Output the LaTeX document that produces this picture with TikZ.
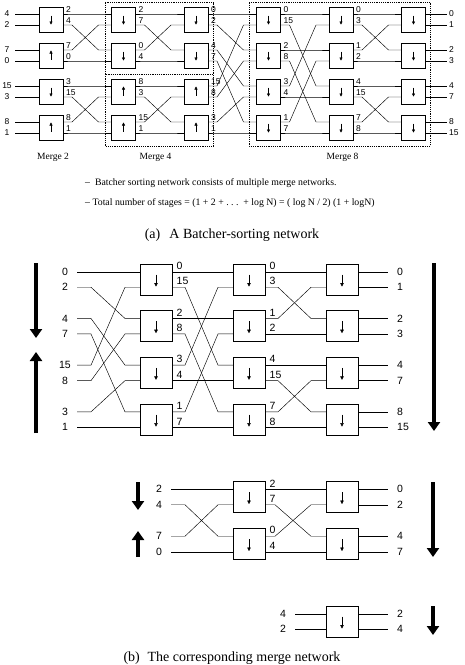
\documentclass[tikz,border=0pt]{standalone}
\usepackage{fontspec}
\setmainfont{Liberation Serif}
\setsansfont{Liberation Sans}
\usepackage{tikz}
\usetikzlibrary{
  arrows.meta,
  calc,
  positioning
}
\tikzset{
  cmpbox/.style={
    draw, line width=0.5pt, minimum width=24pt, minimum height=25pt,
    inner sep=0pt, outer sep=0pt
  },
  cmpboxb/.style={cmpbox, minimum width=32pt, minimum height=31pt},
  sorta/.style={path picture={
    \draw[-{Triangle[length=3pt, width=3pt]}, line width=0.4pt]
      ([yshift=(#1)*4pt]path picture bounding box.center) --
      ([yshift=-(#1)*5pt]path picture bounding box.center);}},
  sortb/.style={path picture={
    \draw[-{Triangle[length=3.5pt, width=3.5pt]}, line width=0.4pt]
      ([yshift=5pt]path picture bounding box.center) --
      ([yshift=-7pt]path picture bounding box.center);}},
  wire/.style={line width=0.45pt},
  numa/.style={font=\sffamily\fontsize{8.5}{9}\selectfont, inner sep=1pt},
  numb/.style={font=\sffamily\fontsize{10.5}{11}\selectfont, inner sep=1pt},
  olab/.style={anchor=south west, xshift=2pt},
  olabb/.style={anchor=south west, xshift=3.5pt, yshift=1pt},
  zone/.style={draw, line width=0.4pt, dash pattern=on 1.2pt off 1pt},
  mergelab/.style={font=\fontsize{9.5}{10}\selectfont},
  note/.style={font=\fontsize{9.8}{11}\selectfont, anchor=west, inner sep=0pt},
  subcap/.style={font=\fontsize{14}{16}\selectfont},
  bigarrow/.style={line width=4pt, -{Triangle[length=9pt, width=12pt]}}
}

\begin{document}
\begin{tikzpicture}[x=1pt, y=-1pt]
  \useasboundingbox (0,0) rectangle (464,665);

  % (a) the Batcher network: ports and comparators
  \foreach \cc in {1,...,6}
    \foreach \p in {0,...,7}{
      \pgfmathsetmacro\wx{51+72.5*(\cc-1)}
      \pgfmathsetmacro\wy{14+36*int(\p/2)+11*mod(\p,2)}
      \coordinate (a\cc i\p) at ({\wx-12},\wy);
      \coordinate (a\cc o\p) at ({\wx+12},\wy);
    }
  \foreach \cc/\sa/\sb/\sc/\sd in {1/1/-1/1/-1, 2/1/1/-1/-1, 3/1/1/-1/-1,
                                   4/1/1/1/1, 5/1/1/1/1, 6/1/1/1/1}
    \foreach \k/\s in {1/\sa, 2/\sb, 3/\sc, 4/\sd}
      \node[cmpbox, sorta=\s] (a\cc b\k) at ({51+72.5*(\cc-1)},{19.5+36*(\k-1)}) {};

  \foreach \v [count=\p from 0] in {4,2,7,0,15,3,8,1}{
    \pgfmathsetmacro\wy{14+36*int(\p/2)+11*mod(\p,2)}
    \coordinate (as\p) at (15,\wy);
    \node[numa] (ain\p) at (7,\wy) {\v};
    \draw[wire] (as\p) -- (a1i\p);
  }
  \foreach \cc/\nn/\map in {1/2/{0/0,1/2,2/1,3/3,4/4,5/6,6/5,7/7},
                            2/3/{0/0,1/2,2/1,3/3,4/4,5/6,6/5,7/7},
                            3/4/{0/0,1/2,2/4,3/6,4/1,5/3,6/5,7/7},
                            4/5/{0/0,1/4,2/2,3/6,4/1,5/5,6/3,7/7},
                            5/6/{0/0,1/2,2/1,3/3,4/4,5/6,6/5,7/7}}
    \foreach \p/\q in \map
      \draw[wire] (a\cc o\p) -- ++(9,0) -- ([xshift=-13pt]a\nn i\q) -- (a\nn i\q);
  \foreach \cc/\vals in {1/{2,4,7,0,3,15,8,1}, 2/{2,7,0,4,8,3,15,1},
                         3/{0,2,4,7,15,8,3,1}, 4/{0,15,2,8,3,4,1,7},
                         5/{0,3,1,2,4,15,7,8}}
    \foreach \v [count=\p from 0] in \vals
      \node[numa, olab] (a\cc l\p) at (a\cc o\p) {\v};
  \foreach \v [count=\p from 0] in {0,1,2,3,4,7,8,15}{
    \pgfmathsetmacro\wy{14+36*int(\p/2)+11*mod(\p,2)}
    \coordinate (ae\p) at (447,\wy);
    \draw[wire] (a6o\p) -- (ae\p);
    \node[numa, anchor=west] (aout\p) at ([xshift=1pt]ae\p) {\v};
  }

  % merge stages
  \draw[zone] (105,2.5) rectangle (213.5,74);
  \draw[zone] (105,74) rectangle (213.5,146);
  \draw[zone] (249,2.5) rectangle (430.5,146);
  \node[mergelab] (m2) at (53,157) {Merge 2};
  \node[mergelab] (m4) at (155.5,157) {Merge 4};
  \node[mergelab] (m8) at (342.5,157) {Merge 8};

  \node[note] (n1) at (85,183)
    {--\ \ Batcher sorting network consists of multiple merge networks.};
  \node[note] (n2) at (85,203)
    {-- Total number of stages = (1 + 2 + .\ .\ .\ \ + log N) = ( log N / 2) (1 + logN)};
  \node[subcap] (capa) at (232,235) {(a)\hspace{0.4em} A Batcher-sorting network};

  % (b) merge network of 8
  \foreach \cc in {1,2,3}
    \foreach \p in {0,...,7}{
      \pgfmathsetmacro\wx{156+93*(\cc-1)}
      \pgfmathsetmacro\wy{279.5+46.7*int(\p/2)+15.5*mod(\p,2)-7.75}
      \coordinate (b\cc i\p) at ({\wx-16},\wy);
      \coordinate (b\cc o\p) at ({\wx+16},\wy);
    }
  \foreach \cc in {1,2,3}
    \foreach \k in {1,...,4}
      \node[cmpboxb, sortb] (b\cc b\k) at ({156+93*(\cc-1)},{279.5+46.7*(\k-1)}) {};
  \foreach \v [count=\p from 0] in {0,2,4,7,15,8,3,1}{
    \pgfmathsetmacro\wy{279.5+46.7*int(\p/2)+15.5*mod(\p,2)-7.75}
    \coordinate (bs\p) at (77,\wy);
    \node[numb] (bin\p) at (65,\wy) {\v};
  }
  \foreach \p/\q in {0/0,1/2,2/4,3/6,4/1,5/3,6/5,7/7}
    \draw[wire] (bs\p) -- ++(14,0) -- ([xshift=-15pt]b1i\q) -- (b1i\q);
  \foreach \cc/\nn/\map in {1/2/{0/0,1/4,2/2,3/6,4/1,5/5,6/3,7/7},
                            2/3/{0/0,1/2,2/1,3/3,4/4,5/6,6/5,7/7}}
    \foreach \p/\q in \map
      \draw[wire] (b\cc o\p) -- ++(13,0) -- ([xshift=-15pt]b\nn i\q) -- (b\nn i\q);
  \foreach \cc/\vals in {1/{0,15,2,8,3,4,1,7}, 2/{0,3,1,2,4,15,7,8}}
    \foreach \v [count=\p from 0] in \vals
      \node[numb, olabb] (b\cc l\p) at (b\cc o\p) {\v};
  \foreach \v [count=\p from 0] in {0,1,2,3,4,7,8,15}{
    \pgfmathsetmacro\wy{279.5+46.7*int(\p/2)+15.5*mod(\p,2)-7.75}
    \coordinate (be\p) at (388,\wy);
    \draw[wire] (b3o\p) -- (be\p);
    \node[numb, anchor=west] (bout\p) at ([xshift=8pt]be\p) {\v};
  }
  \coordinate (bdn1) at (36,263);  \coordinate (bdn2) at (36,338);
  \coordinate (bup1) at (36,433);  \coordinate (bup2) at (36,352);
  \coordinate (bres1) at (434,263); \coordinate (bres2) at (434,431);
  \draw[bigarrow] (bdn1) -- (bdn2);
  \draw[bigarrow] (bup1) -- (bup2);
  \draw[bigarrow] (bres1) -- (bres2);

  % (b) merge network of 4
  \foreach \cc in {1,2}
    \foreach \p in {0,...,3}{
      \pgfmathsetmacro\wx{249+93*(\cc-1)}
      \pgfmathsetmacro\wy{497+47*int(\p/2)+15.5*mod(\p,2)-7.75}
      \coordinate (c\cc i\p) at ({\wx-16},\wy);
      \coordinate (c\cc o\p) at ({\wx+16},\wy);
    }
  \foreach \cc in {1,2}
    \foreach \k in {1,2}
      \node[cmpboxb, sortb] (c\cc b\k) at ({249+93*(\cc-1)},{497+47*(\k-1)}) {};
  \foreach \v [count=\p from 0] in {2,4,7,0}{
    \pgfmathsetmacro\wy{497+47*int(\p/2)+15.5*mod(\p,2)-7.75}
    \coordinate (cs\p) at (171,\wy);
    \node[numb] (cin\p) at (159,\wy) {\v};
  }
  \foreach \p/\q in {0/0,1/2,2/1,3/3}{
    \draw[wire] (cs\p) -- ++(14,0) -- ([xshift=-15pt]c1i\q) -- (c1i\q);
    \draw[wire] (c1o\p) -- ++(10,0) -- ([xshift=-15pt]c2i\q) -- (c2i\q);
  }
  \foreach \v [count=\p from 0] in {2,7,0,4}
    \node[numb, olabb] (c1l\p) at (c1o\p) {\v};
  \foreach \v [count=\p from 0] in {0,2,4,7}{
    \pgfmathsetmacro\wy{497+47*int(\p/2)+15.5*mod(\p,2)-7.75}
    \coordinate (ce\p) at (388,\wy);
    \draw[wire] (c2o\p) -- (ce\p);
    \node[numb, anchor=west] (cout\p) at ([xshift=8pt]ce\p) {\v};
  }
  \coordinate (cdn1) at (138,482);  \coordinate (cdn2) at (138,510);
  \coordinate (cup1) at (138,557);  \coordinate (cup2) at (138,531);
  \coordinate (cres1) at (433,482); \coordinate (cres2) at (433,557);
  \draw[bigarrow] (cdn1) -- (cdn2);
  \draw[bigarrow] (cup1) -- (cup2);
  \draw[bigarrow] (cres1) -- (cres2);

  % (b) merge network of 2
  \node[cmpboxb, sortb] (d1b1) at (342,621.5) {};
  \foreach \v/\w [count=\p from 0] in {4/2,2/4}{
    \pgfmathsetmacro\wy{613.75+15.5*\p}
    \coordinate (ds\p) at (295,\wy);
    \coordinate (de\p) at (388,\wy);
    \node[numb] (din\p) at (283,\wy) {\v};
    \draw[wire] (ds\p) -- (d1b1.west |- ds\p);
    \draw[wire] (d1b1.east |- de\p) -- (de\p);
    \node[numb, anchor=west] (dout\p) at ([xshift=8pt]de\p) {\w};
  }
  \coordinate (dres1) at (433,606); \coordinate (dres2) at (433,635);
  \draw[bigarrow] (dres1) -- (dres2);

  \node[subcap] (capb) at (232,658) {(b)\hspace{0.3em} The corresponding merge network};
\end{tikzpicture}
\end{document}
